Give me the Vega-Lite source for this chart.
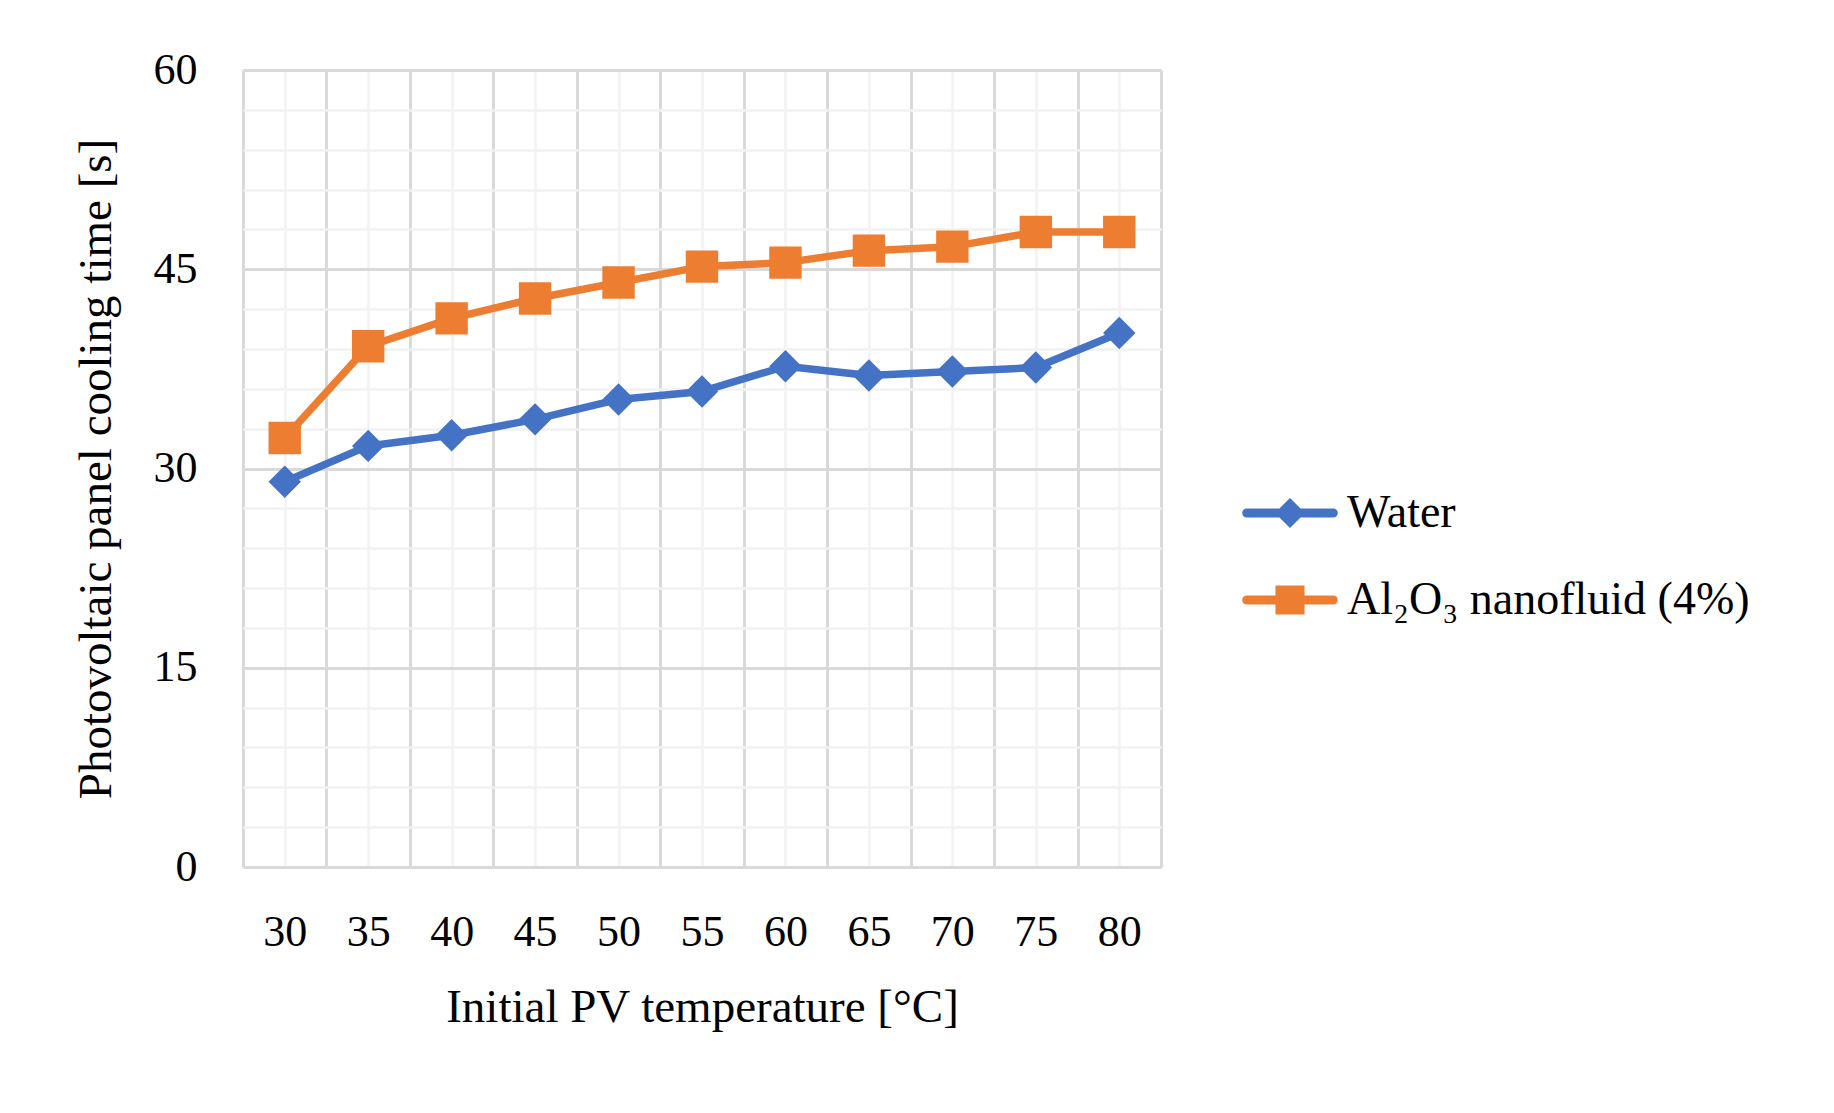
{
  "$schema": "https://vega.github.io/schema/vega-lite/v6.json",
  "width": 918,
  "height": 797,
  "autosize": {"type": "none"},
  "padding": {"left": 243, "top": 70, "right": 673, "bottom": 246},
  "background": "white",
  "config": {
    "view": {"stroke": null},
    "font": "Liberation Serif",
    "axis": {
      "labelFont": "Liberation Serif",
      "titleFont": "Liberation Serif",
      "labelColor": "#000000",
      "titleColor": "#000000",
      "labelFontSize": 44,
      "titleFontSize": 47,
      "titleFontWeight": "normal",
      "ticks": false,
      "domain": false
    }
  },
  "data": {
    "values": [
      {"temp": 30, "series": "Water", "time": 29.0},
      {"temp": 35, "series": "Water", "time": 31.7},
      {"temp": 40, "series": "Water", "time": 32.5},
      {"temp": 45, "series": "Water", "time": 33.7},
      {"temp": 50, "series": "Water", "time": 35.2},
      {"temp": 55, "series": "Water", "time": 35.8},
      {"temp": 60, "series": "Water", "time": 37.7},
      {"temp": 65, "series": "Water", "time": 37.0},
      {"temp": 70, "series": "Water", "time": 37.3},
      {"temp": 75, "series": "Water", "time": 37.6},
      {"temp": 80, "series": "Water", "time": 40.2},
      {"temp": 30, "series": "Al₂O₃ nanofluid (4%)", "time": 32.3},
      {"temp": 35, "series": "Al₂O₃ nanofluid (4%)", "time": 39.2},
      {"temp": 40, "series": "Al₂O₃ nanofluid (4%)", "time": 41.3},
      {"temp": 45, "series": "Al₂O₃ nanofluid (4%)", "time": 42.8},
      {"temp": 50, "series": "Al₂O₃ nanofluid (4%)", "time": 44.0},
      {"temp": 55, "series": "Al₂O₃ nanofluid (4%)", "time": 45.2},
      {"temp": 60, "series": "Al₂O₃ nanofluid (4%)", "time": 45.5},
      {"temp": 65, "series": "Al₂O₃ nanofluid (4%)", "time": 46.4},
      {"temp": 70, "series": "Al₂O₃ nanofluid (4%)", "time": 46.7},
      {"temp": 75, "series": "Al₂O₃ nanofluid (4%)", "time": 47.8},
      {"temp": 80, "series": "Al₂O₃ nanofluid (4%)", "time": 47.8}
    ]
  },
  "layer": [
    {
      "mark": {"type": "line", "strokeWidth": 7.5, "strokeCap": "round", "strokeJoin": "round"},
      "encoding": {
        "x": {
          "field": "temp",
          "type": "quantitative",
          "scale": {"domain": [27.5, 82.5], "nice": false, "zero": false},
          "axis": {
            "orient": "bottom",
            "values": [30, 35, 40, 45, 50, 55, 60, 65, 70, 75, 80],
            "format": "d",
            "grid": true,
            "gridColor": "#F2F2F2",
            "gridWidth": 2.5,
            "labelPadding": 43,
            "title": "Initial PV temperature [°C]",
            "titlePadding": 30
          }
        },
        "y": {
          "field": "time",
          "type": "quantitative",
          "scale": {"domain": [0, 60], "nice": false},
          "axis": {
            "orient": "left",
            "values": [0, 15, 30, 45, 60],
            "grid": true,
            "gridColor": "#D9D9D9",
            "gridWidth": 3,
            "labelPadding": 46,
            "title": "Photovoltaic panel cooling time [s]",
            "titlePadding": 33
          }
        },
        "stroke": {
          "field": "series",
          "type": "nominal",
          "sort": "descending",
          "scale": {"range": ["#4472C4", "#ED7D31"]},
          "legend": null
        }
      }
    },
    {
      "transform": [{"filter": "datum.series === 'Water'"}],
      "mark": {"type": "point", "shape": "diamond", "filled": true, "opacity": 1, "size": 1050, "color": "#4472C4"},
      "encoding": {
        "x": {
          "field": "temp",
          "type": "quantitative",
          "axis": {
            "orient": "bottom",
            "values": [27.5, 32.5, 37.5, 42.5, 47.5, 52.5, 57.5, 62.5, 67.5, 72.5, 77.5, 82.5],
            "grid": true,
            "gridColor": "#D9D9D9",
            "gridWidth": 3,
            "labels": false,
            "title": null
          }
        },
        "y": {
          "field": "time",
          "type": "quantitative",
          "axis": {
            "orient": "left",
            "values": [3, 6, 9, 12, 18, 21, 24, 27, 33, 36, 39, 42, 48, 51, 54, 57],
            "grid": true,
            "gridColor": "#F2F2F2",
            "gridWidth": 2.5,
            "labels": false,
            "title": null
          }
        }
      }
    },
    {
      "transform": [{"filter": "datum.series !== 'Water'"}],
      "mark": {"type": "point", "shape": "square", "filled": true, "opacity": 1, "size": 1050, "color": "#ED7D31"},
      "encoding": {
        "x": {"field": "temp", "type": "quantitative", "axis": null},
        "y": {"field": "time", "type": "quantitative", "axis": null}
      }
    },
    {
      "mark": {"type": "point", "filled": true, "opacity": 1, "size": 0},
      "encoding": {
        "x": {"field": "temp", "type": "quantitative", "axis": null},
        "y": {"field": "time", "type": "quantitative", "axis": null},
        "color": {
          "field": "series",
          "type": "nominal",
          "sort": ["Water", "Al₂O₃ nanofluid (4%)"],
          "scale": {"domain": ["Water", "Al₂O₃ nanofluid (4%)"], "range": ["#4472C4", "#ED7D31"]},
          "legend": {
            "title": null,
            "orient": "none",
            "legendX": 1024,
            "legendY": 420,
            "padding": 0,
            "symbolSize": 1200,
            "symbolStrokeWidth": 0,
            "labelFont": "Liberation Serif",
            "labelFontSize": 46,
            "labelColor": "#000000",
            "labelLimit": 1000,
            "labelOffset": 34,
            "rowPadding": 41
          }
        },
        "shape": {
          "field": "series",
          "type": "nominal",
          "sort": ["Water", "Al₂O₃ nanofluid (4%)"],
          "scale": {
            "domain": ["Water", "Al₂O₃ nanofluid (4%)"],
            "range": [
              "M-2.5,-0.26H2.5A0.26,0.26,0,0,1,2.5,0.26H-2.5A0.26,0.26,0,0,1,-2.5,-0.26ZM0,-0.87L0.87,0L0,0.87L-0.87,0Z",
              "M-2.5,-0.26H2.5A0.26,0.26,0,0,1,2.5,0.26H-2.5A0.26,0.26,0,0,1,-2.5,-0.26ZM-0.84,-0.84H0.84V0.84H-0.84Z"
            ]
          },
          "legend": {
            "title": null,
            "orient": "none",
            "legendX": 1024,
            "legendY": 420,
            "padding": 0,
            "symbolSize": 1200,
            "symbolStrokeWidth": 0,
            "labelFont": "Liberation Serif",
            "labelFontSize": 46,
            "labelColor": "#000000",
            "labelLimit": 1000,
            "labelOffset": 34,
            "rowPadding": 41
          }
        }
      }
    }
  ],
  "resolve": {"axis": {"x": "independent", "y": "independent"}}
}
